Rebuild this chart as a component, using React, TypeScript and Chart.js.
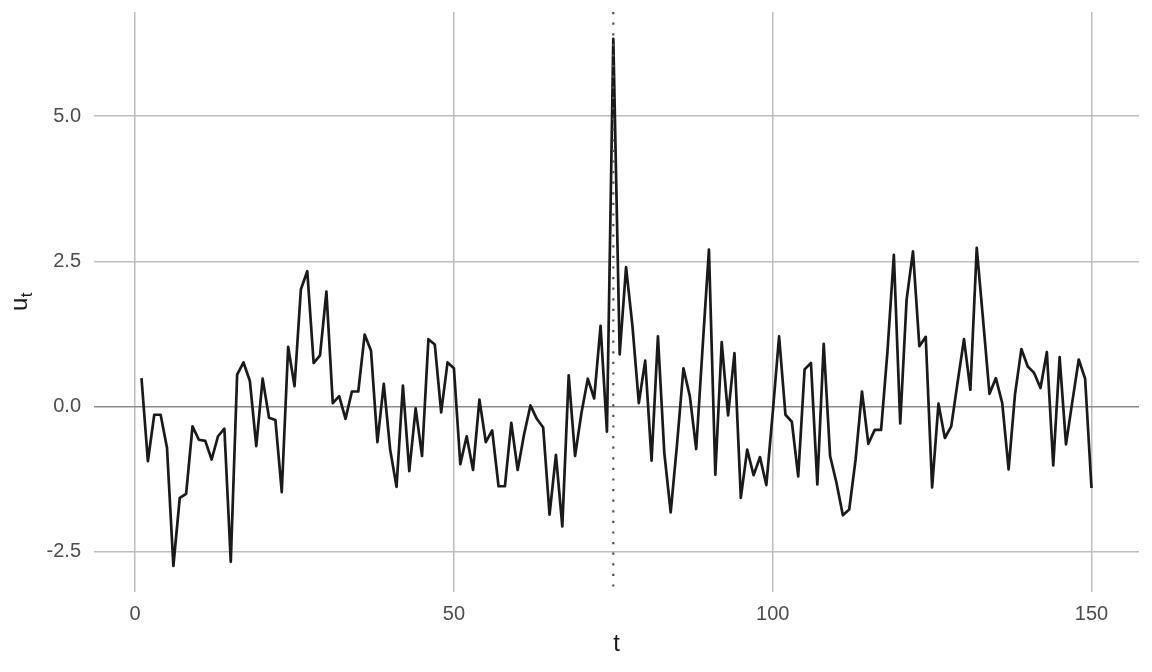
import React, { useEffect, useRef } from "react";
import { Chart, registerables } from "chart.js";

Chart.register(...registerables);

// u_t series, t = 1..150
const uValues: number[] = [
  0.49, -0.94, -0.14, -0.14, -0.71, -2.74, -1.57, -1.5, -0.34, -0.57,
  -0.59, -0.91, -0.51, -0.38, -2.67, 0.55, 0.76, 0.44, -0.68, 0.48,
  -0.19, -0.23, -1.47, 1.03, 0.35, 2.02, 2.33, 0.75, 0.88, 1.98,
  0.06, 0.18, -0.21, 0.26, 0.26, 1.24, 0.96, -0.61, 0.39, -0.74,
  -1.38, 0.36, -1.11, -0.03, -0.85, 1.16, 1.07, -0.1, 0.76, 0.66,
  -0.99, -0.51, -1.09, 0.12, -0.61, -0.41, -1.37, -1.37, -0.28, -1.09,
  -0.48, 0.02, -0.21, -0.36, -1.86, -0.83, -2.06, 0.54, -0.85, -0.11,
  0.48, 0.14, 1.39, -0.43, 6.33, 0.9, 2.4, 1.39, 0.06, 0.79,
  -0.93, 1.21, -0.8, -1.82, -0.64, 0.66, 0.18, -0.73, 1.01, 2.7,
  -1.17, 1.11, -0.15, 0.92, -1.57, -0.74, -1.18, -0.87, -1.35, -0.11,
  1.21, -0.14, -0.26, -1.2, 0.64, 0.75, -1.34, 1.08, -0.85, -1.31,
  -1.87, -1.77, -0.91, 0.26, -0.64, -0.4, -0.4, 0.95, 2.61, -0.29,
  1.84, 2.67, 1.04, 1.2, -1.39, 0.05, -0.54, -0.34, 0.42, 1.16,
  0.29, 2.73, 1.49, 0.22, 0.49, 0.06, -1.08, 0.21, 0.99, 0.69,
  0.58, 0.32, 0.94, -1.01, 0.85, -0.65, 0.09, 0.81, 0.48, -1.4,
];
const tValues: number[] = uValues.map((_, i) => i + 1);
const xTicks: number[] = [0, 50, 100, 150];
const yTicks: number[] = [-2.5, 0, 2.5, 5];
const markerT = 75;
const xTitle = "t";
const yTitleMain = "u";
const yTitleSub = "t";

const FONT = '"Liberation Sans", Arial, sans-serif';

const overlayPlugin = {
  id: "overlay",
  afterDatasetsDraw(chart: any) {
    const { ctx, chartArea, scales } = chart;
    const x = scales.x.getPixelForValue(markerT);
    ctx.save();
    ctx.strokeStyle = "#505050";
    ctx.lineWidth = 2.2;
    ctx.setLineDash([2.2, 8.4]);
    ctx.beginPath();
    ctx.moveTo(x, chartArea.top);
    ctx.lineTo(x, chartArea.bottom);
    ctx.stroke();
    ctx.restore();
  },
  afterDraw(chart: any) {
    const { ctx, chartArea } = chart;
    ctx.save();
    ctx.fillStyle = "#1a1a1a";
    ctx.font = `24px ${FONT}`;
    ctx.textAlign = "center";
    ctx.textBaseline = "middle";
    ctx.fillText(xTitle, (chartArea.left + chartArea.right) / 2, 644);
    ctx.restore();

    ctx.save();
    ctx.translate(27, 311);
    ctx.rotate(-Math.PI / 2);
    ctx.fillStyle = "#1a1a1a";
    ctx.textAlign = "left";
    ctx.textBaseline = "alphabetic";
    ctx.font = `24px ${FONT}`;
    ctx.fillText(yTitleMain, 0, 0);
    const w = ctx.measureText(yTitleMain).width;
    ctx.font = `17px ${FONT}`;
    ctx.fillText(yTitleSub, w + 0.5, 5);
    ctx.restore();
  },
};

export default function App() {
  const canvasRef = useRef<HTMLCanvasElement | null>(null);

  useEffect(() => {
    if (!canvasRef.current) return;
    const chart = new Chart(canvasRef.current, {
      type: "line",
      data: {
        datasets: [
          {
            data: tValues.map((t, i) => ({ x: t, y: uValues[i] })),
            borderColor: "#1a1a1a",
            borderWidth: 2.7,
            pointRadius: 0,
            tension: 0,
            fill: false,
            borderJoinStyle: "round",
          } as any,
        ],
      },
      options: {
        animation: false,
        responsive: false,
        devicePixelRatio: 1,
        layout: { padding: { top: 12, right: 13, left: 0, bottom: 0 } },
        plugins: {
          legend: { display: false },
          tooltip: { enabled: false },
        },
        scales: {
          x: {
            type: "linear",
            min: -6.45,
            max: 157.45,
            border: { display: false },
            grid: {
              color: "#bdbdbd",
              lineWidth: 1.5,
              drawTicks: false,
            },
            afterBuildTicks: (scale: any) => {
              scale.ticks = xTicks.map((v) => ({ value: v }));
            },
            afterFit: (scale: any) => {
              scale.height = 80;
              scale.paddingLeft = 0;
              scale.paddingRight = 0;
            },
            ticks: {
              padding: 10,
              color: "#4d4d4d",
              font: { family: FONT, size: 20 },
              callback: (v: any) => String(v),
              maxRotation: 0,
            },
          },
          y: {
            type: "linear",
            min: -3.19,
            max: 6.79,
            border: { display: false },
            grid: {
              color: (c: any) => (c.tick && c.tick.value === 0 ? "#8c8c8c" : "#bdbdbd"),
              lineWidth: 1.5,
              drawTicks: false,
            },
            afterBuildTicks: (scale: any) => {
              scale.ticks = yTicks.map((v) => ({ value: v }));
            },
            afterFit: (scale: any) => {
              scale.width = 94;
              scale.paddingTop = 0;
              scale.paddingBottom = 0;
            },
            ticks: {
              padding: 13,
              color: "#4d4d4d",
              font: { family: FONT, size: 20 },
              callback: (v: any) => Number(v).toFixed(1),
            },
          },
        },
      },
      plugins: [overlayPlugin],
    });
    return () => chart.destroy();
  }, []);

  return (
    <div style={{ position: "absolute", left: 0, top: 0, width: 1152, height: 672, background: "#fff" }}>
      <canvas ref={canvasRef} width={1152} height={672} style={{ display: "block" }} />
    </div>
  );
}
